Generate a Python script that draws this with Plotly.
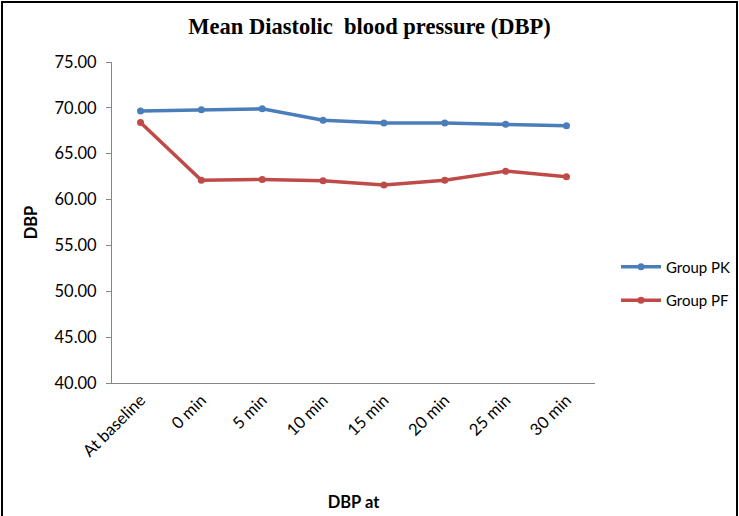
import plotly.graph_objects as go

categories = ["At baseline", "0 min", "5 min", "10 min", "15 min", "20 min", "25 min", "30 min"]
group_pk = [69.65, 69.8, 69.9, 68.65, 68.35, 68.35, 68.2, 68.05]
group_pf = [68.4, 62.1, 62.2, 62.05, 61.6, 62.1, 63.1, 62.5]
y_ticks = [40, 45, 50, 55, 60, 65, 70, 75]

FONT = "Lato, Open Sans, sans-serif"
FS = 16.5

fig = go.Figure()
fig.add_trace(go.Scatter(x=categories, y=group_pk, name="Group PK", mode="lines+markers",
                         line=dict(color="#4A7EBB", width=3.5), marker=dict(size=7, color="#4A7EBB"),
                         legendgroup="a"))
fig.add_trace(go.Scatter(x=categories, y=group_pf, name="Group PF", mode="lines+markers",
                         line=dict(color="#BE4B48", width=3.5), marker=dict(size=7, color="#BE4B48"),
                         legendgroup="b"))

W, H = 739, 516
L, R, T, B = 112, 144, 62, 133
pw = W - L - R
ph = H - T - B

fig.update_layout(
    width=W, height=H,
    margin=dict(l=L, r=R, t=T, b=B, autoexpand=False),
    paper_bgcolor="white", plot_bgcolor="white",
    font=dict(family=FONT, size=FS, color="#000000"),
    title=dict(text="<b>Mean Diastolic  blood pressure (DBP)</b>", x=0.5, xanchor="center",
               y=1 - 26 / H, yanchor="middle",
               font=dict(family="Liberation Serif, serif", size=22.5, color="#000000")),
    showlegend=True,
    legend=dict(x=(616 - L) / pw, xanchor="left", y=0.31, yanchor="middle", traceorder="grouped",
                tracegroupgap=11, font=dict(size=15), itemwidth=40, borderwidth=0,
                bgcolor="rgba(0,0,0,0)"),
    xaxis=dict(type="category", categoryorder="array", categoryarray=categories,
               showline=True, linecolor="#868686", linewidth=1, showgrid=False,
               tickangle=-45, ticks="", tickfont=dict(size=FS), automargin=False,
               title=dict(text="<b>DBP at</b>", font=dict(size=FS), standoff=36)),
    yaxis=dict(range=[40, 75], tickvals=y_ticks, ticktext=[f"{v:.2f}" for v in y_ticks],
               showline=True, linecolor="#868686", linewidth=1, showgrid=False,
               ticks="outside", ticklen=5, tickcolor="#868686", tickfont=dict(size=FS),
               ticklabelstandoff=6, automargin=False,
               title=dict(text="<b>DBP</b>", font=dict(size=FS), standoff=12)),
    shapes=[dict(type="rect", xref="paper", yref="paper",
                 x0=-(L - 2) / pw, x1=(W - 2 - L) / pw, y0=-(B + 10) / ph, y1=(ph + T - 2) / ph,
                 line=dict(color="#000000", width=2), fillcolor="rgba(0,0,0,0)")],
)

fig.write_html("out.html", config={"displayModeBar": False},
               post_script="document.body.style.margin='0';")
